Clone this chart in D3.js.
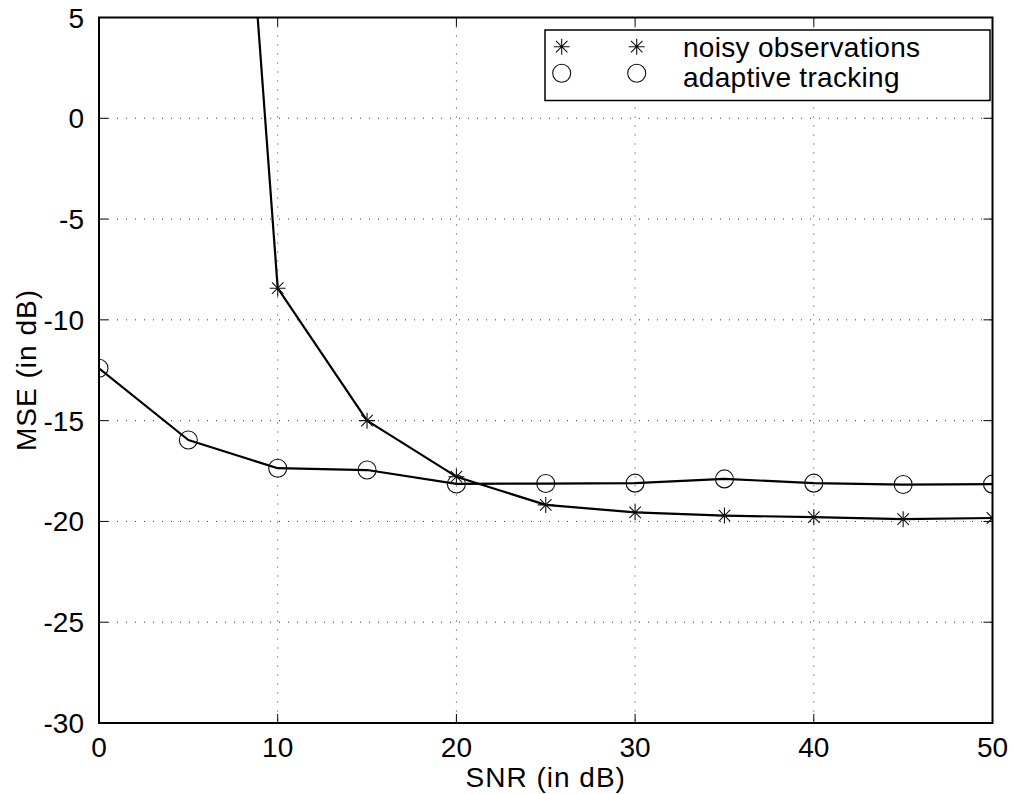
<!DOCTYPE html>
<html>
<head>
<meta charset="utf-8">
<script src="https://cdn.jsdelivr.net/npm/d3@7"></script>
<style>
  html, body { margin: 0; padding: 0; background: #fff; }
  text { font-family: "Liberation Sans", Arial, Helvetica, sans-serif; fill: #000; }
</style>
</head>
<body>
<svg id="chart" width="1013" height="794"></svg>
<script>
// SNR sweep and the two MSE curves (dB)
const snrNoisy = [5, 10, 15, 20, 25, 30, 35, 40, 45, 50];
const mseNoisy = [51.5, -8.43, -15.0, -17.78, -19.18, -19.55, -19.71, -19.79, -19.89, -19.83];
const snrTrack = [0, 5, 10, 15, 20, 25, 30, 35, 40, 45, 50];
const mseTrack = [-12.4, -15.96, -17.36, -17.45, -18.14, -18.12, -18.1, -17.89, -18.1, -18.17, -18.15];
const xTicks = [0, 10, 20, 30, 40, 50];
const yTicks = [-30, -25, -20, -15, -10, -5, 0, 5];
const legendLabels = ["noisy observations", "adaptive tracking"];
const xTitle = "SNR (in dB)";
const yTitle = "MSE (in dB)";

const svg = d3.select("#chart");
const m = { left: 99, right: 992.5, top: 17.5, bottom: 723 };
const x = d3.scaleLinear().domain([0, 50]).range([m.left, m.right]);
const y = d3.scaleLinear().domain([-30, 5]).range([m.bottom, m.top]);
const fontSize = 28;

// dotted grid
const grid = svg.append("g").attr("stroke", "#333").attr("stroke-width", 1)
  .attr("stroke-dasharray", "1,8");
xTicks.slice(1, -1).forEach(t => grid.append("line")
  .attr("x1", x(t)).attr("x2", x(t)).attr("y1", m.top).attr("y2", m.bottom));
yTicks.slice(1, -1).forEach(t => grid.append("line")
  .attr("x1", m.left).attr("x2", m.right).attr("y1", y(t)).attr("y2", y(t)));

// tick marks on all four sides, pointing inward
const tk = 9;
const ticks = svg.append("g").attr("stroke", "#000").attr("stroke-width", 1);
xTicks.forEach(t => {
  ticks.append("line").attr("x1", x(t)).attr("x2", x(t)).attr("y1", m.bottom).attr("y2", m.bottom - tk);
  ticks.append("line").attr("x1", x(t)).attr("x2", x(t)).attr("y1", m.top).attr("y2", m.top + tk);
});
yTicks.forEach(t => {
  ticks.append("line").attr("x1", m.left).attr("x2", m.left + tk).attr("y1", y(t)).attr("y2", y(t));
  ticks.append("line").attr("x1", m.right).attr("x2", m.right - tk).attr("y1", y(t)).attr("y2", y(t));
});

// tick labels
svg.append("g").selectAll("text").data(xTicks).join("text")
  .attr("x", d => x(d)).attr("y", 757).attr("text-anchor", "middle")
  .attr("font-size", fontSize).text(d => d);
svg.append("g").selectAll("text").data(yTicks).join("text")
  .attr("x", 84).attr("y", d => y(d) + 10).attr("text-anchor", "end")
  .attr("font-size", fontSize).text(d => d);

// axis titles
svg.append("text").attr("x", (m.left + m.right) / 2).attr("y", 787)
  .attr("text-anchor", "middle").attr("font-size", fontSize)
  .attr("letter-spacing", 1).text(xTitle);
svg.append("text").attr("transform", "translate(36,370) rotate(-90)")
  .attr("text-anchor", "middle").attr("font-size", fontSize)
  .attr("letter-spacing", 1).text(yTitle);

// clip for curves
svg.append("defs").append("clipPath").attr("id", "plotclip").append("rect")
  .attr("x", m.left).attr("y", m.top).attr("width", m.right - m.left).attr("height", m.bottom - m.top);

const line = d3.line().x(d => x(d[0])).y(d => y(d[1]));
const noisy = snrNoisy.map((s, i) => [s, mseNoisy[i]]);
const track = snrTrack.map((s, i) => [s, mseTrack[i]]);
const curves = svg.append("g").attr("clip-path", "url(#plotclip)");
[noisy, track].forEach(data => curves.append("path").datum(data)
  .attr("d", line).attr("fill", "none").attr("stroke", "#000").attr("stroke-width", 2.2)
  .attr("stroke-linejoin", "round"));

// markers
const rStar = 8, rCirc = 9;
function star(g, cx, cy) {
  const d = rStar * 0.72;
  g.append("path").attr("d",
    `M${cx - rStar},${cy}H${cx + rStar}M${cx},${cy - rStar}V${cy + rStar}` +
    `M${cx - d},${cy - d}L${cx + d},${cy + d}M${cx - d},${cy + d}L${cx + d},${cy - d}`)
    .attr("stroke", "#111").attr("stroke-width", 1.1).attr("fill", "none");
}
function circle(g, cx, cy) {
  g.append("circle").attr("cx", cx).attr("cy", cy).attr("r", rCirc)
    .attr("fill", "none").attr("stroke", "#111").attr("stroke-width", 1.1);
}
const marks = curves.append("g");
noisy.forEach(d => star(marks, x(d[0]), y(d[1])));
track.forEach(d => circle(marks, x(d[0]), y(d[1])));

// frame
svg.append("rect").attr("x", m.left).attr("y", m.top)
  .attr("width", m.right - m.left).attr("height", m.bottom - m.top)
  .attr("fill", "none").attr("stroke", "#000").attr("stroke-width", 2);

// legend
const lg = svg.append("g");
lg.append("rect").attr("x", 545).attr("y", 30).attr("width", 445).attr("height", 70.5)
  .attr("fill", "#fff").attr("stroke", "#000").attr("stroke-width", 1.5);
star(lg, 561.7, 46.7); star(lg, 636.7, 46.7);
circle(lg, 561.7, 73.3); circle(lg, 636.7, 73.3);
legendLabels.forEach((t, i) => lg.append("text")
  .attr("x", 683).attr("y", 57 + i * 30).attr("font-size", fontSize)
  .attr("letter-spacing", 0.3).text(t));
</script>
</body>
</html>
